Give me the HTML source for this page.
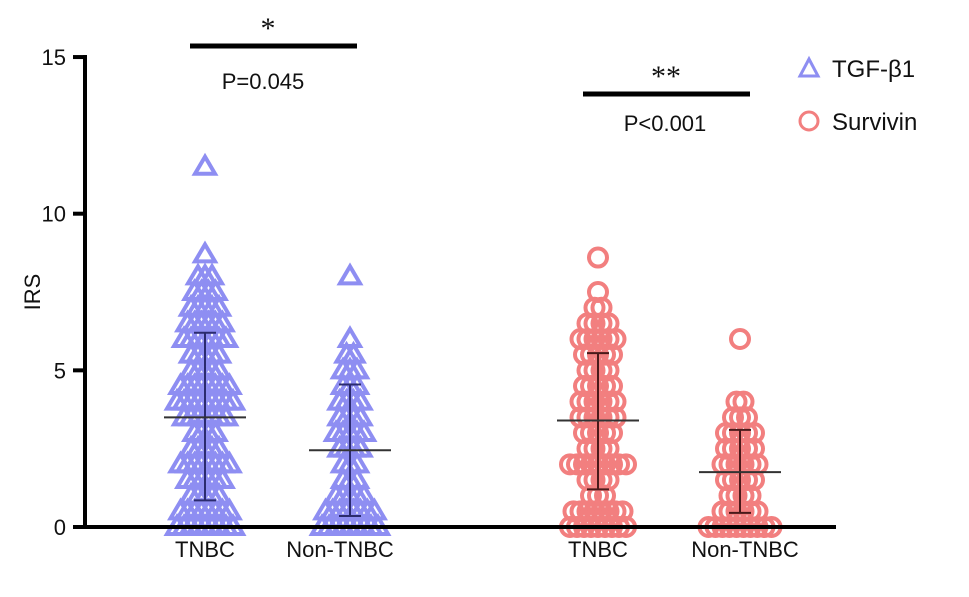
<!DOCTYPE html>
<html><head><meta charset="utf-8"><style>
body{margin:0;background:#fff}
svg text{font-family:"Liberation Sans",sans-serif;fill:#111}
</style></head><body>
<svg id="chart" width="969" height="597" viewBox="0 0 969 597" xmlns="http://www.w3.org/2000/svg" style="position:absolute;left:0;top:0">
<g id="marks"></g>
<g id="axes"></g>
</svg>
<script>
const categories = ["TNBC","Non-TNBC","TNBC","Non-TNBC"];
const groupMarker = ["tri","tri","circ","circ"];
const yTicks = [0,5,10,15];
// distinct IRS values and counts per group
const g1Values = [11.5,8.7,8,7.5,7,6.5,6,5.5,5,4.5,4,3.5,3,2.5,2,1.5,1,0.5,0];
const g1Counts = [1,1,3,4,5,6,7,5,5,8,9,7,4,5,8,6,5,8,9];
const g2Values = [8,6,5.5,5,4.5,4,3.5,3,2.5,2,1.5,1,0.5,0];
const g2Counts = [1,1,2,3,3,4,4,5,4,3,3,5,8,9];
const g3Values = [8.6,7.5,7,6.5,6,5.5,5,4.5,4,3.5,3,2.5,2,1.5,1,0.5,0];
const g3Counts = [1,1,2,4,6,5,4,5,6,6,5,4,9,4,3,8,9];
const g4Values = [6,4,3.5,3,2.5,2,1.5,1,0.5,0];
const g4Counts = [1,2,3,5,5,6,5,4,6,10];
const means = [3.5,2.45,3.4,1.75];
const upper = [6.2,4.55,5.55,3.1];
const lower = [0.85,0.35,1.2,0.45];

const groupsV=[g1Values,g2Values,g3Values,g4Values];
const groupsC=[g1Counts,g2Counts,g3Counts,g4Counts];
const centers=[205,350,598,740];
const y=v=>527-v*31.33;
const x=i=>centers[i];
const NS="http://www.w3.org/2000/svg";
function mk(tag,attrs,parent){const e=document.createElementNS(NS,tag);for(const k in attrs)e.setAttribute(k,attrs[k]);parent.appendChild(e);return e;}
const marks=document.getElementById('marks'), axes=document.getElementById('axes');
for(let g=0;g<4;g++){
  const col=groupMarker[g]==="tri"?"#8e8ef2":"#f27f7f";
  groupsV[g].forEach((v,i)=>{
    const n=groupsC[g][i];
    for(let k=0;k<n;k++){
      const off=(k-(n-1)/2)*7;
      const cx=x(g)+off, cy=y(v);
      let el;
      if(groupMarker[g]==="tri"){
        el=mk('polygon',{points:`${cx},${cy-10} ${cx-10},${cy+7} ${cx+10},${cy+7}`,fill:"none",stroke:col,"stroke-width":4},marks);
      }else{
        el=mk('circle',{cx:cx,cy:cy,r:9,fill:"none",stroke:col,"stroke-width":4},marks);
      }
      
      
    }
  });
  const ec=groupMarker[g]==="tri"?"#2b2b6e":"#4a1a1a";
  const mw=41;
  let e=mk('line',{x1:x(g),x2:x(g),y1:y(upper[g]),y2:y(lower[g]),stroke:ec,"stroke-width":2},marks);
  
  
  e=mk('line',{x1:x(g)-mw,x2:x(g)+mw,y1:y(means[g]),y2:y(means[g]),stroke:"#333","stroke-width":2},marks);
  
  
  for(const v of [upper[g],lower[g]]){
    e=mk('line',{x1:x(g)-11,x2:x(g)+11,y1:y(v),y2:y(v),stroke:ec,"stroke-width":2},marks);
    
    
  }
}
// axes
let a=mk('line',{x1:85,x2:85,y1:55,y2:529,stroke:"#000","stroke-width":4},axes);


a=mk('line',{x1:83,x2:836,y1:527,y2:527,stroke:"#000","stroke-width":4},axes);


yTicks.forEach(t=>{
  let l=mk('line',{x1:73,x2:85,y1:y(t),y2:y(t),stroke:"#000","stroke-width":4},axes);
  
  
  let tx=mk('text',{x:66,y:y(t)+8,"text-anchor":"end","font-size":22},axes);
  tx.textContent=t;
  
  
});
categories.forEach((c,i)=>{
  let tx=mk('text',{x:i===1?340:(i===3?745:x(i)),y:557,"text-anchor":"middle","font-size":22},axes);
  tx.textContent=c;
  
  
});
</script>
<svg style="position:absolute;left:0;top:0" width="969" height="597">
<text x="40" y="292" font-size="22" text-anchor="middle" transform="rotate(-90 40 292)">IRS</text>
<line x1="190" x2="357" y1="46" y2="46" stroke="#000" stroke-width="5"/>
<text x="268" y="38" font-size="30" text-anchor="middle" style="font-family:'Liberation Serif',serif">*</text>
<text x="263" y="89" font-size="22" text-anchor="middle">P=0.045</text>
<line x1="583" x2="750" y1="94" y2="94" stroke="#000" stroke-width="5"/>
<text x="666" y="86" font-size="30" text-anchor="middle" style="font-family:'Liberation Serif',serif">**</text>
<text x="665" y="131" font-size="22" text-anchor="middle">P&lt;0.001</text>
<polygon points="809,59 800,76 818,76" fill="none" stroke="#8e8ef2" stroke-width="3"/>
<text x="832" y="77" font-size="24">TGF-β1</text>
<circle cx="809" cy="121" r="9" fill="none" stroke="#f27f7f" stroke-width="3"/>
<text x="832" y="130" font-size="24">Survivin</text>
</svg>
</body></html>
